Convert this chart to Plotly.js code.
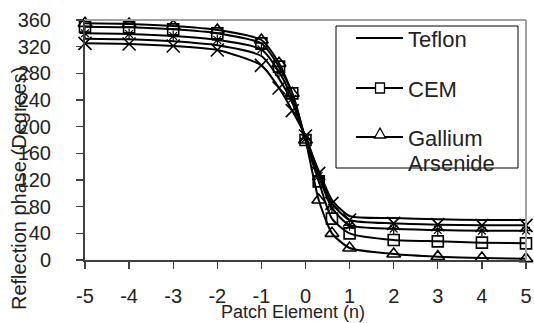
<!DOCTYPE html>
<html>
<head>
<meta charset="utf-8">
<script src="https://cdn.plot.ly/plotly-3.0.1.min.js"></script>
<style>html,body{margin:0;padding:0;background:#fff;}#chart{width:534px;height:323px;}</style>
</head>
<body>
<div id="chart"></div>
<script>
const xVals = [-5,-4,-3,-2,-1,-0.6,-0.3,0,0.3,0.6,1,2,3,4,5];
const teflon = [332,331,328,322,306,272,236,183,134,90,66,63,61,60,60];
const cem = [350,349,346,340,325,290,250,180,118,62,40,30,28,26,25];
const gaas = [355,354,351,345,330,295,250,180,90,40,18,9,5,3,2];
const starSeries = [340,339,336,330,316,282,242,182,126,78,52,47,45,44,44];
const crossSeries = [325,324,321,315,292,258,224,186,130,85,60,55,53,52,52];
const xTicks = [-5,-4,-3,-2,-1,0,1,2,3,4,5];
const yTicks = [0,40,80,120,160,200,240,280,320,360];
const legendNames = ['Teflon','CEM','Gallium Arsenide'];

function tr(name, y, sym, size, lw){
  return {x:xVals, y:y, name:name, type:'scatter', mode: sym ? 'lines+markers' : 'lines',
    line:{color:'#000', width:2, shape:'spline', smoothing:0.6}, cliponaxis:false, showlegend:false,
    marker:{symbol: sym || 'circle', size: size || 6, color:'#000', line:{color:'#000', width:lw || 1.5}}};
}
const data = [
  tr('series4', crossSeries, 'x-thin-open', 13, 1.6),
  tr('series5', starSeries, 'asterisk-open', 9, 1.2),
  tr(legendNames[0], teflon, null, 0, 0),
  tr(legendNames[1], cem, 'square-open', 11, 1.6),
  tr(legendNames[2], gaas, 'triangle-up-open', 12, 1.6)
];

// pixel -> paper helpers (plot area 85..526 x 20..260)
const L = 85, R = 526, T = 20, B = 260;
const px = v => (v - L) / (R - L);
const py = v => (B - v) / (B - T);

const ff = 'Liberation Sans, Arial, sans-serif';
const txt = '#222';
const legRows = [38, 88, 137];
const shapes = [
  {type:'line', xref:'paper', yref:'paper', x0:0, x1:1, y0:1, y1:1, line:{color:'#a0a0a0', width:2}},
  {type:'line', xref:'paper', yref:'paper', x0:1, x1:1, y0:0, y1:1, line:{color:'#a0a0a0', width:2}},
  {type:'rect', xref:'paper', yref:'paper', x0:px(336), x1:px(518), y0:py(26), y1:py(168),
    fillcolor:'#fff', line:{color:'#000', width:1}, layer:'above'}
];
legRows.forEach(r => shapes.push({type:'line', xref:'paper', yref:'paper', x0:px(356), x1:px(403), y0:py(r), y1:py(r),
  line:{color:'#000', width:2}, layer:'above'}));
shapes.push({type:'rect', xref:'paper', yref:'paper', x0:px(375.5), x1:px(384.5), y0:py(83), y1:py(93),
  fillcolor:'#fff', line:{color:'#000', width:1.3}, layer:'above'});
shapes.push({type:'path', xref:'paper', yref:'paper',
  path:'M'+px(380)+','+py(128)+' L'+px(385.5)+','+py(138)+' L'+px(374.5)+','+py(138)+' Z',
  fillcolor:'#fff', line:{color:'#000', width:1.3}, layer:'above'});

const gaWords = legendNames[2].split(' ');
const legAnn = (t, y) => ({text:t, xref:'paper', yref:'paper', x:px(406), y:py(y), xanchor:'left', yanchor:'middle',
    showarrow:false, font:{size:22, family:ff, color:txt}});
const annotations = [
  {text:'Patch Element (n)', xref:'paper', yref:'paper', x:px(293), y:py(323), xanchor:'center', yanchor:'bottom',
    showarrow:false, font:{size:18, family:ff, color:txt}, borderpad:0},
  {text:'Reflection phase (Degrees)', xref:'paper', yref:'paper', x:px(19), y:py(189), xanchor:'center', yanchor:'middle',
    textangle:-90, showarrow:false, font:{size:20, family:ff, color:txt}},
  legAnn(legendNames[0], 39),
  legAnn(legendNames[1], 89),
  legAnn(gaWords[0], 138),
  legAnn(gaWords[1], 163)
];

const axisCommon = {showgrid:false, zeroline:false, showline:true, linecolor:'#404040', linewidth:2,
  ticks:'outside', ticklen:7, tickwidth:1.3, tickcolor:'#404040', fixedrange:true};
const layout = {
  width:534, height:323,
  margin:{l:L, r:534-R, t:T, b:323-B},
  paper_bgcolor:'#fff', plot_bgcolor:'#fff',
  font:{family:ff, color:txt},
  showlegend:false,
  xaxis:Object.assign({range:[-5,5], tickvals:xTicks, ticktext:xTicks.map(String),
    tickfont:{size:20, family:ff, color:txt}, ticklabelstandoff:10}, axisCommon),
  yaxis:Object.assign({range:[0,360], tickvals:yTicks, ticktext:yTicks.map(String),
    tickfont:{size:20, family:ff, color:txt}, ticklabelstandoff:21}, axisCommon),
  shapes:shapes,
  annotations:annotations
};
Plotly.newPlot('chart', data, layout, {displayModeBar:false, staticPlot:true});
</script>
</body>
</html>
